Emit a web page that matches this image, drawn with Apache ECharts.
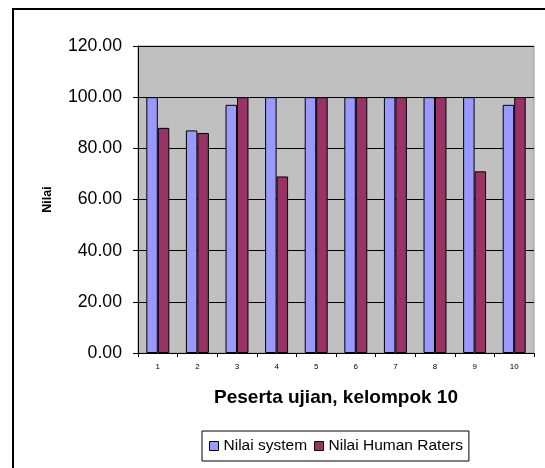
<!DOCTYPE html>
<html>
<head>
<meta charset="utf-8">
<script src="https://cdn.jsdelivr.net/npm/echarts@6/dist/echarts.min.js"></script>
<style>html,body{margin:0;padding:0;background:#fff;}#c{width:545px;height:468px;}</style>
</head>
<body>
<div id="c"></div>
<script>
var categories = ['1','2','3','4','5','6','7','8','9','10'];
var nilaiSystem = [100, 87, 97, 100, 100, 100, 100, 100, 100, 97];
var nilaiHuman = [88, 86, 100, 69, 100, 100, 100, 100, 71, 100];
var seriesNames = ['Nilai system', 'Nilai Human Raters'];
var xTitle = 'Peserta ujian, kelompok 10';
var yTitle = 'Nilai';

var FONT = 'Liberation Sans, Arial, sans-serif';
var chart = echarts.init(document.getElementById('c'), null, {renderer: 'canvas'});
chart.setOption({
  animation: false,
  backgroundColor: '#fff',
  graphic: [{
    type: 'rect',
    shape: {x: 13, y: 9, width: 700, height: 700},
    style: {fill: 'none', stroke: '#000', lineWidth: 2},
    silent: true
  }],
  grid: {
    left: 138, right: 11, top: 46, bottom: 115,
    show: true, backgroundColor: '#C0C0C0', borderColor: '#999', borderWidth: 1
  },
  legend: {
    left: 202, top: 431,
    padding: [7, 6, 7, 7],
    borderColor: '#000', borderWidth: 1,
    itemWidth: 9, itemHeight: 9, itemGap: 7,
    icon: 'rect',
    itemStyle: {borderColor: '#000', borderWidth: 1},
    textStyle: {fontFamily: FONT, fontSize: 15.5, color: '#000', padding: [0,0,0,0]},
    data: seriesNames
  },
  xAxis: {
    type: 'category',
    data: categories,
    name: xTitle,
    nameLocation: 'middle',
    nameGap: 35,
    nameTextStyle: {fontFamily: FONT, fontSize: 19, fontWeight: 'bold', color: '#000'},
    axisLine: {lineStyle: {color: '#000', width: 1}},
    axisTick: {show: true, length: 4, lineStyle: {color: '#000'}},
    axisLabel: {fontFamily: FONT, fontSize: 8, color: '#000', margin: 10}
  },
  yAxis: {
    type: 'value',
    min: 0, max: 120, interval: 20,
    name: yTitle,
    nameLocation: 'middle',
    nameGap: 84,
    nameTextStyle: {fontFamily: FONT, fontSize: 12.5, fontWeight: 'bold', color: '#000'},
    axisLine: {show: true, lineStyle: {color: '#000', width: 1}},
    axisTick: {show: true, length: 5, lineStyle: {color: '#000'}},
    axisLabel: {fontFamily: FONT, fontSize: 17.7, color: '#000', margin: 16,
      formatter: function (v) { return v.toFixed(2); }},
    splitLine: {show: true, lineStyle: {color: '#000', width: 1}}
  },
  series: [{
    name: seriesNames[0],
    type: 'bar',
    data: nilaiSystem,
    barGap: '0%',
    barCategoryGap: '42%',
    itemStyle: {color: '#9999FF', borderColor: '#000', borderWidth: 1}
  }, {
    name: seriesNames[1],
    type: 'bar',
    data: nilaiHuman,
    barGap: '0%',
    barCategoryGap: '42%',
    itemStyle: {color: '#993366', borderColor: '#000', borderWidth: 1}
  }]
});
</script>
</body>
</html>
